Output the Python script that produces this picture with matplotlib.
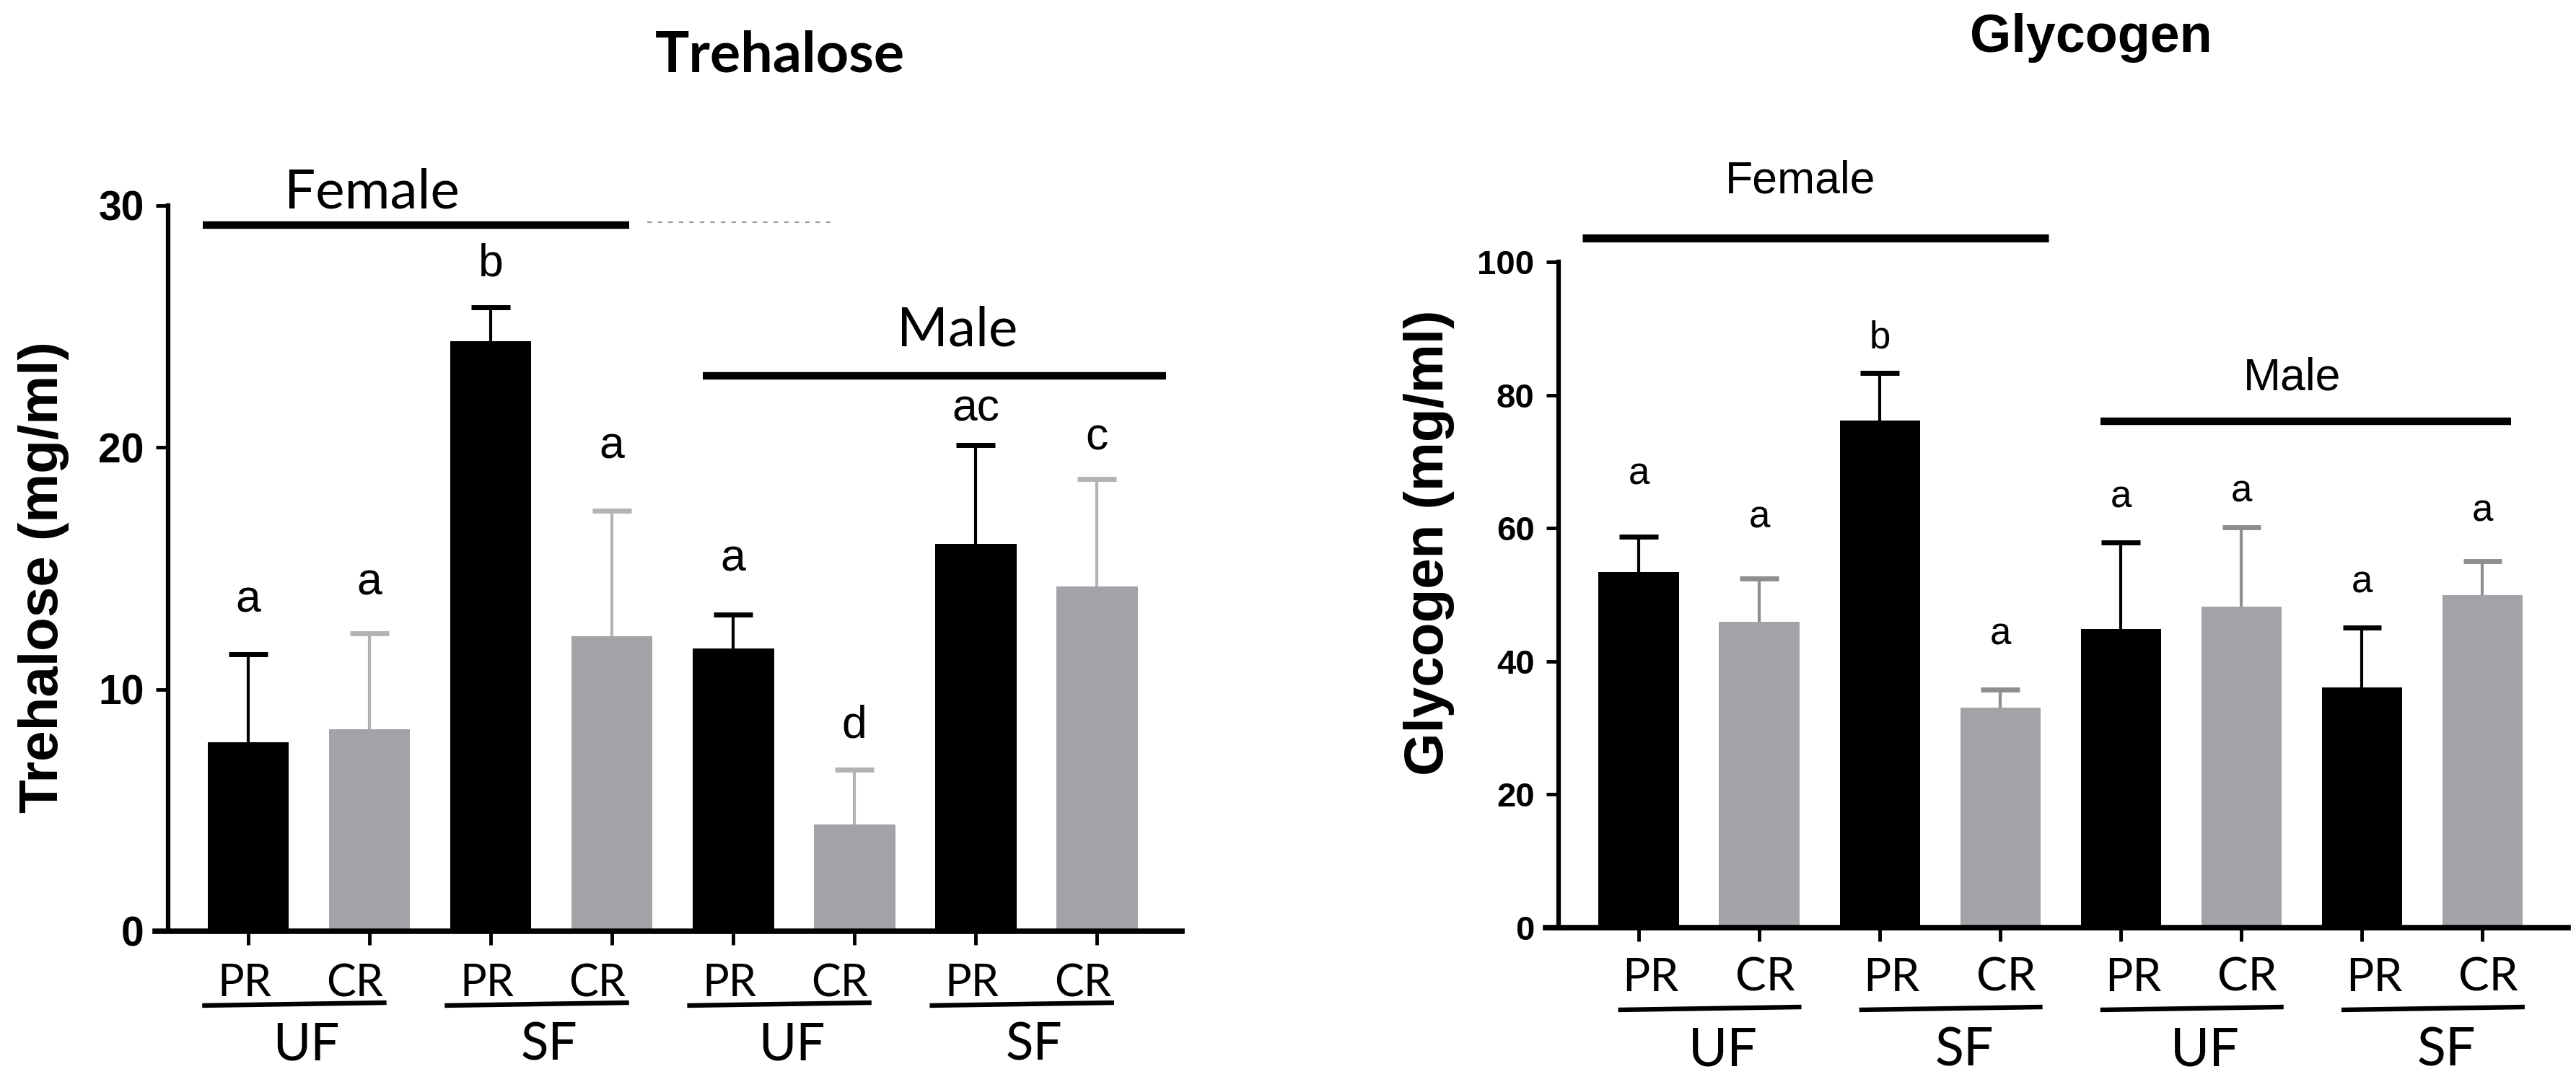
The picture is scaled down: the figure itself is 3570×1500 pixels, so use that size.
import numpy as np
import matplotlib
matplotlib.use("Agg")
import matplotlib.pyplot as plt
from matplotlib.transforms import blended_transform_factory

# ---------------- data ----------------
conditions = ["PR", "CR", "PR", "CR", "PR", "CR", "PR", "CR"]
feeding = ["UF", "SF", "UF", "SF"]
bar_colors = ["#000000", "#a3a2a7"] * 4
err_colors_tre = ["#000000", "#b3b3b3"] * 4
err_colors_gly = ["#000000", "#8e8e8e"] * 4

tre_mean = [7.8, 8.35, 24.4, 12.2, 11.7, 4.4, 16.0, 14.25]
tre_sem = [3.65, 3.98, 1.4, 5.2, 1.4, 2.27, 4.1, 4.45]
tre_letters = ["a", "a", "b", "a", "a", "d", "ac", "c"]
tre_letter_y = [13.2, 13.9, 27.1, 19.55, 14.9, 8.0, 21.1, 19.9]

gly_mean = [53.4, 45.9, 76.2, 33.0, 44.8, 48.2, 36.1, 49.9]
gly_sem = [5.3, 6.5, 7.1, 2.7, 13.1, 11.9, 9.0, 5.1]
gly_letters = ["a", "a", "b", "a", "a", "a", "a", "a"]
gly_letter_y = [66.6, 60.1, 87.0, 42.5, 63.1, 64.0, 50.3, 61.0]

W, H = 3570, 1500
fig = plt.figure(figsize=(W / 100, H / 100), dpi=100)

NARROW = ["Liberation Sans Narrow", "Liberation Sans", "DejaVu Sans"]
ARIAL = ["Liberation Sans", "DejaVu Sans"]
CALIBRI = ["Lato", "DejaVu Sans"]


def fy(px):
    # pixel row from top -> figure fraction
    return 1 - px / H


def panel(rect, xlim, yaxis_x, ylim, yticks, means, sems, errc, letters, letter_y,
          tick_font, tick_size, letter_font, letter_size, bw, cap):
    l, r, top, bot = rect
    ax = fig.add_axes([l / W, fy(bot), (r - l) / W, (bot - top) / H])
    for s in ["top", "right"]:
        ax.spines[s].set_visible(False)
    ax.spines["left"].set_position(("data", yaxis_x))
    ax.spines["left"].set_linewidth(4.5)
    ax.spines["bottom"].set_linewidth(5.5)
    ax.patch.set_alpha(0)

    pos = np.arange(len(means))
    ax.bar(pos, means, width=bw, color=bar_colors, linewidth=0, zorder=2)
    tops = np.array(means) + np.array(sems)
    for i in range(len(means)):
        ax.vlines(pos[i], means[i], tops[i], color=errc[i], lw=3.0, zorder=1)
        ax.hlines(tops[i], pos[i] - cap, pos[i] + cap, color=errc[i], lw=5, zorder=1)
        ax.text(pos[i], letter_y[i], letters[i], ha="center", va="baseline",
                family=letter_font, fontsize=letter_size)
    ax.set_xlim(*xlim)
    ax.set_ylim(*ylim)
    ax.set_xticks(pos)
    ax.tick_params(axis="x", direction="out", length=14, width=3.5, labelbottom=False)
    ax.tick_params(axis="y", direction="out", length=12, width=3.5, pad=12)
    ax.set_yticks(yticks, labels=[str(t) for t in yticks], family=tick_font,
                  fontsize=tick_size, fontweight="bold")
    return ax, pos


def xlabels(ax, pos, sub_y, line_y, grp_y, pr_off, cr_off, line_l, grp_off, sub_size, grp_size):
    tr = blended_transform_factory(ax.transData, fig.transFigure)
    for i, c in enumerate(conditions):
        off = pr_off if c == "PR" else cr_off
        ax.text(pos[i] + off, fy(sub_y), c, transform=tr, ha="center", va="baseline",
                family=CALIBRI, fontsize=sub_size, clip_on=False)
    for g, name in enumerate(feeding):
        x0 = pos[2 * g] + line_l
        ax.plot([x0, x0 + 1.52], [fy(line_y), fy(line_y - 4)], transform=tr,
                color="black", lw=4.6, clip_on=False, solid_capstyle="butt")
        ax.text(pos[2 * g] + 0.5 + grp_off, fy(grp_y), name, transform=tr, ha="center",
                va="baseline", family=CALIBRI, fontsize=grp_size, clip_on=False)


# ---------------- Trehalose ----------------
ax1, p1 = panel((215, 1638, 285, 1291), (-0.768, 7.70), -0.66, (0, 30), [0, 10, 20, 30],
                tre_mean, tre_sem, err_colors_tre, tre_letters, tre_letter_y,
                NARROW, 41, ARIAL, 45, 0.67, 0.16)
xlabels(ax1, p1, 1381, 1394, 1470, -0.03, -0.12, -0.38, -0.02, 44, 51)
ax1.plot([-0.375, 3.14], [29.2, 29.2], color="black", lw=7.5, clip_on=False, solid_capstyle="butt")
ax1.plot([3.29, 4.80], [29.3, 29.3], color="#9a9a9a", lw=1.5, ls=(0, (3, 4)), clip_on=False)
ax1.text(1.02, 29.9, "Female", ha="center", va="baseline", family=CALIBRI, fontsize=55)
ax1.plot([3.75, 7.57], [22.97, 22.97], color="black", lw=7.5, clip_on=False, solid_capstyle="butt")
ax1.text(5.85, 24.2, "Male", ha="center", va="baseline", family=CALIBRI, fontsize=55)
fig.text(1081 / W, fy(100), "Trehalose", ha="center", va="baseline",
         family=CALIBRI, fontsize=57, fontweight="bold")
fig.text(61 / W, fy(800), "Trehalose (mg/ml)", rotation=90, ha="center", va="center",
         family=ARIAL, fontsize=55, fontweight="bold")

# ---------------- Glycogen ----------------
ax2, p2 = panel((2142, 3559, 363, 1286), (-0.772, 7.71), -0.665, (0, 100), [0, 20, 40, 60, 80, 100],
                gly_mean, gly_sem, err_colors_gly, gly_letters, gly_letter_y,
                ARIAL, 34, ARIAL, 38, 0.665, 0.16)
xlabels(ax2, p2, 1374, 1400, 1477, 0.1, 0.05, -0.17, 0.2, 46, 53)
ax2.plot([-0.467, 3.40], [103.6, 103.6], color="black", lw=8, clip_on=False, solid_capstyle="butt")
ax2.text(1.34, 110.4, "Female", ha="center", va="baseline", family=ARIAL, fontsize=45)
ax2.plot([3.83, 7.24], [76.1, 76.1], color="black", lw=7.5, clip_on=False, solid_capstyle="butt")
ax2.text(5.42, 80.8, "Male", ha="center", va="baseline", family=ARIAL, fontsize=45)
fig.text(2898 / W, fy(72), "Glycogen", ha="center", va="baseline",
         family=ARIAL, fontsize=53, fontweight="bold")
fig.text(1980 / W, fy(752), "Glycogen (mg/ml)", rotation=90, ha="center", va="center",
         family=ARIAL, fontsize=55, fontweight="bold")

fig.savefig("out.png", dpi=100, facecolor="white")
